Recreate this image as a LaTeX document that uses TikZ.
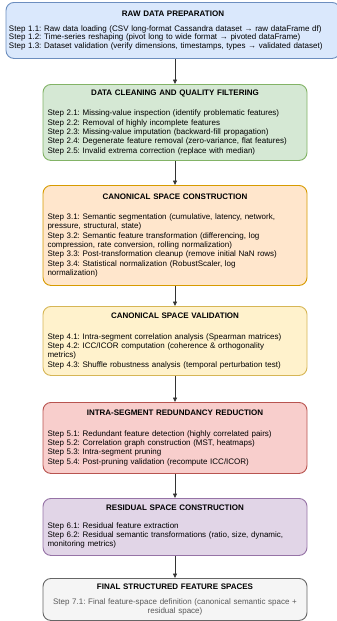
\documentclass[tikz,border=0pt]{standalone}
\usepackage{fontspec}
\setmainfont{Liberation Sans}
\usepackage{xcolor}
\usetikzlibrary{arrows.meta, positioning}
\frenchspacing

\definecolor{rawfill}{HTML}{DAE8FC}\definecolor{rawline}{HTML}{6C8EBF}
\definecolor{cleanfill}{HTML}{D5E8D4}\definecolor{cleanline}{HTML}{82B366}
\definecolor{canonfill}{HTML}{FFE6CC}\definecolor{canonline}{HTML}{D79B00}
\definecolor{validfill}{HTML}{FFF2CC}\definecolor{validline}{HTML}{D6B656}
\definecolor{redunfill}{HTML}{F8CECC}\definecolor{redunline}{HTML}{B85450}
\definecolor{residfill}{HTML}{E1D5E7}\definecolor{residline}{HTML}{9673A6}
\definecolor{finalfill}{HTML}{F5F5F5}\definecolor{finalline}{HTML}{666666}

\newcommand{\stagetitle}[1]{\makebox[\hsize][c]{\bfseries #1}}

\begin{document}
\begin{tikzpicture}[x=1pt, y=-1pt,
    stage/.style={draw, rounded corners=8pt, line width=0.9pt, anchor=north,
        align=left, text width=255pt, inner xsep=4.5pt, inner ysep=0pt,
        font=\fontsize{8}{9.3}\selectfont},
    flow/.style={-{Triangle[length=4.5pt,width=4pt]}, line width=0.8pt, draw=black!80}]
\useasboundingbox (0,0) rectangle (337,621);

% Stage 1
\node[stage, fill=rawfill, draw=rawline, text width=328pt, inner xsep=3pt,
    minimum height=56pt, font=\fontsize{8}{8.7}\selectfont] (raw) at (173,2) {%
\stagetitle{RAW DATA PREPARATION}\\[6pt]
Step 1.1: Raw data loading (CSV long-format Cassandra dataset → raw dataFrame df)\\
Step 1.2: Time-series reshaping (pivot long to wide format → pivoted dataFrame)\\
Step 1.3: Dataset validation (verify dimensions, timestamps, types → validated dataset)};

% Stage 2
\node[stage, fill=cleanfill, draw=cleanline, minimum height=76pt] (clean) at (175,84) {%
\stagetitle{DATA CLEANING AND QUALITY FILTERING}\\[11pt]
Step 2.1: Missing-value inspection (identify problematic features)\\
Step 2.2: Removal of highly incomplete features\\
Step 2.3: Missing-value imputation (backward-fill propagation)\\
Step 2.4: Degenerate feature removal (zero-variance, flat features)\\
Step 2.5: Invalid extrema correction (replace with median)};

% Stage 3
\node[stage, fill=canonfill, draw=canonline, minimum height=100pt] (canon) at (175,185) {%
\stagetitle{CANONICAL SPACE CONSTRUCTION}\\[11pt]
Step 3.1: Semantic segmentation (cumulative, latency, network,\\
pressure, structural, state)\\
Step 3.2: Semantic feature transformation (differencing, log\\
compression, rate conversion, rolling normalization)\\
Step 3.3: Post-transformation cleanup (remove initial NaN rows)\\
Step 3.4: Statistical normalization (RobustScaler, log\\
normalization)};

% Stage 4
\node[stage, fill=validfill, draw=validline, minimum height=69pt] (valid) at (175,306) {%
\stagetitle{CANONICAL SPACE VALIDATION}\\[11pt]
Step 4.1: Intra-segment correlation analysis (Spearman matrices)\\
Step 4.2: ICC/ICOR computation (coherence \& orthogonality\\
metrics)\\
Step 4.3: Shuffle robustness analysis (temporal perturbation test)};

% Stage 5
\node[stage, fill=redunfill, draw=redunline, minimum height=71pt] (redun) at (175,402) {%
\stagetitle{INTRA-SEGMENT REDUNDANCY REDUCTION}\\[11pt]
Step 5.1: Redundant feature detection (highly correlated pairs)\\
Step 5.2: Correlation graph construction (MST, heatmaps)\\
Step 5.3: Intra-segment pruning\\
Step 5.4: Post-pruning validation (recompute ICC/ICOR)};

% Stage 6
\node[stage, fill=residfill, draw=residline, minimum height=57pt] (resid) at (175,498) {%
\stagetitle{RESIDUAL SPACE CONSTRUCTION}\\[8pt]
Step 6.1: Residual feature extraction\\
Step 6.2: Residual semantic transformations (ratio, size, dynamic,\\
monitoring metrics)};

% Stage 7
\node[stage, fill=finalfill, draw=finalline, minimum height=42pt, align=center] (final) at (175,578) {%
\textbf{FINAL STRUCTURED FEATURE SPACES}\\[6pt]
{\color{black!65}Step 7.1: Final feature-space definition (canonical semantic space +\\
residual space)}};

% Connectors
\draw[flow] (raw.south -| clean.north) -- (clean.north);
\foreach \a/\b in {clean/canon, canon/valid, valid/redun, redun/resid, resid/final}
    \draw[flow] (\a.south) -- (\b.north);
\end{tikzpicture}
\end{document}
